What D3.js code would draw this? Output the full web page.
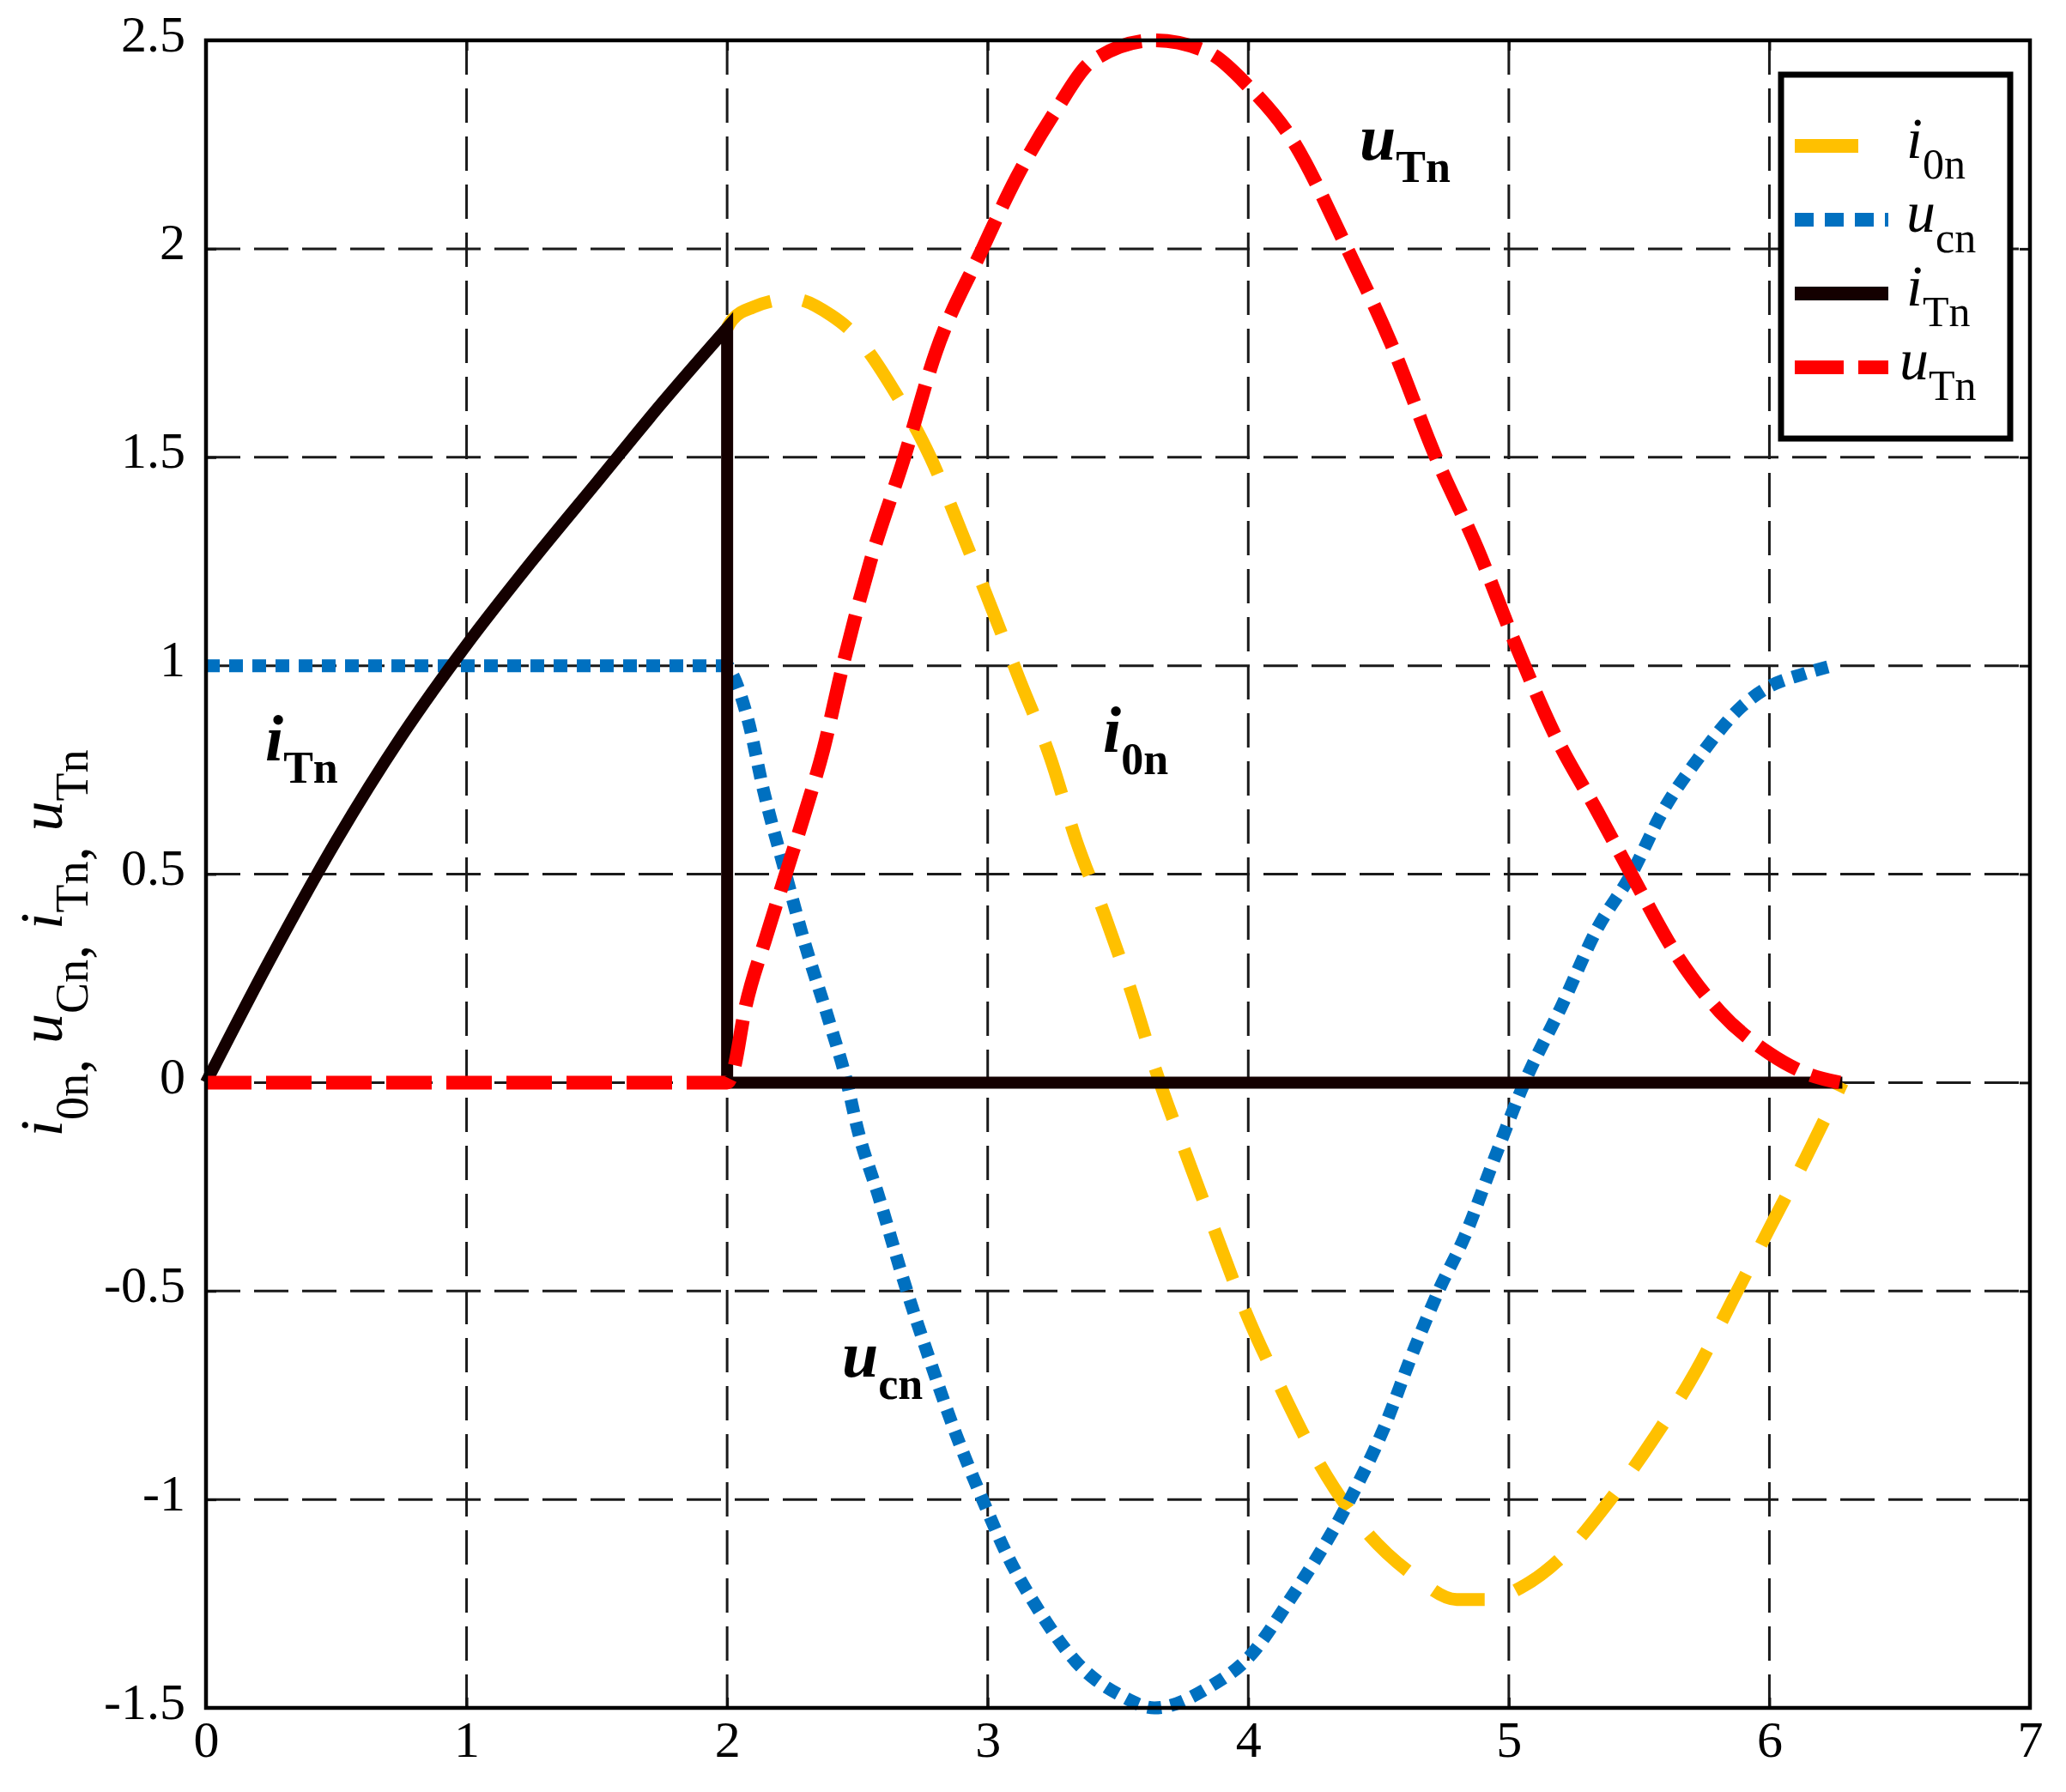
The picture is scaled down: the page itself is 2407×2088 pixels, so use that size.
<!DOCTYPE html>
<html>
<head>
<meta charset="utf-8">
<script src="https://cdn.jsdelivr.net/npm/d3@7/dist/d3.min.js"></script>
<style>
  body { margin: 0; background: #fff; }
  text { font-family: "Liberation Serif", "Times New Roman", serif; }
</style>
</head>
<body>
<div id="container"><svg></svg></div>
<script>
let width = 2407;
let height = 2088;
let margin = {left: 240, right: 42, top: 47, bottom: 98};

// tick labels
let xTicks = [0, 1, 2, 3, 4, 5, 6, 7];
let yTicks = [-1.5, -1, -0.5, 0, 0.5, 1, 1.5, 2, 2.5];

// series, [x, y]
let i0n = [[2.0,1.81],[2.02,1.83],[2.10,1.86],[2.25,1.88],[2.40,1.84],[2.48,1.80],[2.65,1.65],
    [2.78,1.50],[2.90,1.32],[3.02,1.13],[3.12,0.97],[3.24,0.78],[3.34,0.58],[3.45,0.40],[3.55,0.22],
    [3.65,0.02],[3.76,-0.17],[3.88,-0.37],[3.99,-0.55],[4.13,-0.74],[4.26,-0.90],[4.43,-1.06],
    [4.63,-1.18],[4.80,-1.24],[4.92,-1.24],[5.05,-1.21],[5.20,-1.14],[5.39,-1.00],[5.56,-0.85],
    [5.72,-0.69],[5.86,-0.52],[6.00,-0.35],[6.14,-0.18],[6.28,0]];

let ucn = [[0,1],[2.0,1],[2.02,0.98],[2.08,0.87],[2.14,0.70],[2.225,0.50],[2.30,0.33],[2.39,0.15],
    [2.46,0],[2.50,-0.11],[2.58,-0.27],[2.69,-0.50],[2.78,-0.67],[2.87,-0.83],[2.98,-1.00],
    [3.08,-1.14],[3.20,-1.27],[3.34,-1.39],[3.51,-1.47],[3.64,-1.50],[3.85,-1.45],[4.00,-1.38],
    [4.16,-1.24],[4.39,-1.00],[4.52,-0.83],[4.63,-0.65],[4.73,-0.50],[4.83,-0.37],[4.94,-0.19],
    [5.06,0],[5.20,0.18],[5.34,0.37],[5.47,0.50],[5.59,0.65],[5.73,0.78],[5.89,0.90],[6.00,0.95],
    [6.13,0.98],[6.24,1.00]];

// rising part of i_Tn, then the drop and the flat part
let iTnRise = [[0,0],[0.25,0.30],[0.5,0.58],[0.75,0.83],[1,1.05],[1.25,1.25],[1.5,1.44],[1.75,1.63],
    [2,1.81]];
let iTnOff = [[2,1.81],[2,0],[6.28,0]];

let uTn = [[0,0],[2.0,0],[2.02,0.02],[2.07,0.18],[2.15,0.35],[2.225,0.50],[2.30,0.65],[2.37,0.80],
    [2.44,0.99],[2.55,1.25],[2.68,1.50],[2.80,1.75],[2.98,2.00],[3.11,2.17],[3.26,2.33],[3.40,2.45],
    [3.64,2.50],[3.85,2.47],[4.00,2.39],[4.16,2.27],[4.38,2.00],[4.55,1.77],[4.72,1.50],[4.88,1.28],
    [5.02,1.06],[5.18,0.83],[5.34,0.65],[5.47,0.50],[5.65,0.30],[5.81,0.17],[6.00,0.07],[6.15,0.02],
    [6.27,0]];

function draw_chart() {
    let svg = d3.select('#container').select('svg')
        .attr('width', width)
        .attr('height', height);

    let pw = width - margin.left - margin.right;
    let ph = height - margin.top - margin.bottom;

    let x = d3.scaleLinear().domain([0, 7]).range([0, pw]);
    let y = d3.scaleLinear().domain([-1.5, 2.5]).range([ph, 0]);

    let g = svg.append('g').attr('transform', `translate(${margin.left},${margin.top})`);

    // dashed grid
    let grid = g.append('g')
        .attr('stroke', '#1a1a1a')
        .attr('stroke-width', 3)
        .attr('stroke-dasharray', '40,16');
    grid.selectAll('line.v')
        .data(xTicks.slice(1, -1))
        .join('line')
        .attr('class', 'v')
        .attr('x1', d => x(d)).attr('x2', d => x(d))
        .attr('y1', 0).attr('y2', ph);
    grid.selectAll('line.h')
        .data(yTicks.slice(1, -1))
        .join('line')
        .attr('class', 'h')
        .attr('x1', 0).attr('x2', pw)
        .attr('y1', d => y(d)).attr('y2', d => y(d));

    // axes (inward ticks, labels outside); plain hyphen for negatives
    let fmt = d => String(d);
    let xAxis = g.append('g')
        .attr('transform', `translate(0,${ph})`)
        .call(d3.axisBottom(x).tickValues(xTicks).tickSize(-12).tickSizeOuter(0).tickPadding(14)
            .tickFormat(fmt));
    let yAxis = g.append('g')
        .call(d3.axisLeft(y).tickValues(yTicks).tickSize(-12).tickSizeOuter(0).tickPadding(24)
            .tickFormat(fmt));
    g.append('g')
        .call(d3.axisTop(x).tickValues(xTicks).tickSize(-12).tickSizeOuter(0).tickFormat(''));
    g.append('g')
        .attr('transform', `translate(${pw},0)`)
        .call(d3.axisRight(y).tickValues(yTicks).tickSize(-12).tickSizeOuter(0).tickFormat(''));

    g.selectAll('.domain').remove();
    g.selectAll('.tick line').attr('stroke', '#111').attr('stroke-width', 3);
    xAxis.selectAll('text').attr('font-size', 60).attr('fill', '#000')
        .attr('font-family', '"Liberation Serif", serif');
    yAxis.selectAll('text').attr('font-size', 60).attr('fill', '#000')
        .attr('font-family', '"Liberation Serif", serif').attr('dy', '0.2em');

    // curves
    let smooth = d3.line().x(d => x(d[0])).y(d => y(d[1])).curve(d3.curveMonotoneX);
    let straight = d3.line().x(d => x(d[0])).y(d => y(d[1]));

    g.append('path').datum(i0n)
        .attr('d', smooth).attr('fill', 'none')
        .attr('stroke', '#ffc000').attr('stroke-width', 15)
        .attr('stroke-dasharray', '62,38');
    g.append('path').datum(ucn)
        .attr('d', smooth).attr('fill', 'none')
        .attr('stroke', '#0070c0').attr('stroke-width', 15)
        .attr('stroke-dasharray', '16,11');
    g.append('path')
        .attr('d', smooth(iTnRise) + straight(iTnOff).replace(/^M/, 'L'))
        .attr('fill', 'none')
        .attr('stroke', '#140000').attr('stroke-width', 14)
        .attr('stroke-linejoin', 'miter');
    g.append('path').datum(uTn)
        .attr('d', smooth).attr('fill', 'none')
        .attr('stroke', '#ff0000').attr('stroke-width', 16)
        .attr('stroke-dasharray', '53,17');

    // frame
    g.append('rect')
        .attr('width', pw).attr('height', ph)
        .attr('fill', 'none').attr('stroke', '#000').attr('stroke-width', 4.5);

    // legend
    let legendItems = [
        {main: 'i', sub: '0n', color: '#ffc000', dash: '74,35'},
        {main: 'u', sub: 'cn', color: '#0070c0', dash: '22,13'},
        {main: 'i', sub: 'Tn', color: '#140000', dash: null},
        {main: 'u', sub: 'Tn', color: '#ff0000', dash: '57,17'}
    ];
    let lg = svg.append('g').attr('transform', 'translate(2075,87)');
    lg.append('rect')
        .attr('width', 267).attr('height', 424)
        .attr('fill', '#fff').attr('stroke', '#000').attr('stroke-width', 7);
    let row = lg.selectAll('g.row')
        .data(legendItems)
        .join('g')
        .attr('class', 'row')
        .attr('transform', (d, i) => `translate(0,${83 + i * 86})`);
    row.append('line')
        .attr('x1', 16).attr('x2', 125)
        .attr('stroke', d => d.color).attr('stroke-width', 16)
        .attr('stroke-dasharray', d => d.dash);
    let lt = row.append('text')
        .attr('x', (d, i) => i == 3 ? 138 : 146).attr('y', 14)
        .attr('font-size', 68).attr('fill', '#000');
    lt.append('tspan').attr('font-style', 'italic').text(d => d.main);
    lt.append('tspan').attr('font-size', 50).attr('dy', 24).text(d => d.sub);

    // labels next to the curves
    let notes = [
        {main: 'u', sub: 'Tn', x: 1584, y: 186},
        {main: 'i', sub: 'Tn', x: 309, y: 886},
        {main: 'i', sub: '0n', x: 1285, y: 876},
        {main: 'u', sub: 'cn', x: 981, y: 1604}
    ];
    let nt = svg.append('g').selectAll('text')
        .data(notes)
        .join('text')
        .attr('x', d => d.x).attr('y', d => d.y)
        .attr('font-size', 76).attr('font-weight', 'bold').attr('fill', '#000');
    nt.append('tspan').attr('font-style', 'italic').text(d => d.main);
    nt.append('tspan').attr('font-size', 52).attr('dy', 26).text(d => d.sub);

    // y axis title
    let yt = svg.append('text')
        .attr('transform', 'translate(72,1099) rotate(-90)')
        .attr('text-anchor', 'middle')
        .attr('font-size', 70).attr('fill', '#000');
    let parts = [['i', '0n'], ['u', 'Cn'], ['i', 'Tn'], ['u', 'Tn']];
    parts.forEach((p, i) => {
        yt.append('tspan').attr('font-style', 'italic').attr('dy', i == 0 ? 0 : -30).text(p[0]);
        yt.append('tspan').attr('font-size', 54).attr('dy', 30).text(p[1]);
        if (i < parts.length - 1) yt.append('tspan').attr('dy', 0).text(', ');
    });
}

draw_chart();
</script>
</body>
</html>
